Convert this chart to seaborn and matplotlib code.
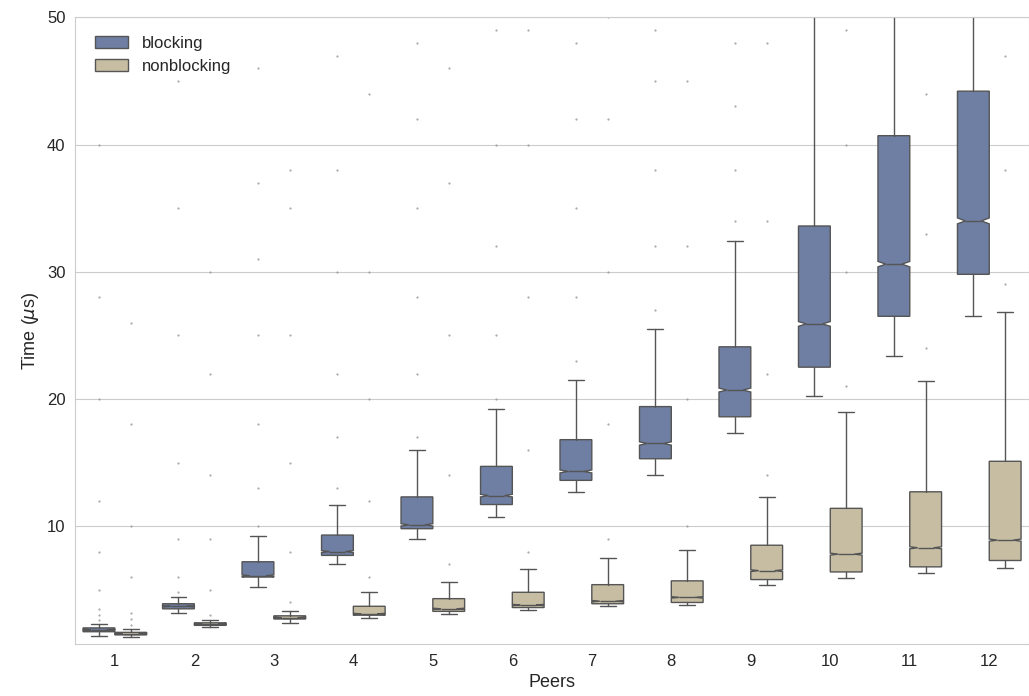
import matplotlib
matplotlib.use("Agg")
import matplotlib.pyplot as plt
import seaborn as sns
from matplotlib.patches import Patch

peers = list(range(1, 13))

# blocking: whisker low, q1, median, q3, whisker high
blk_lo = [1.4, 3.2, 5.2, 7.0, 9.0, 10.7, 12.7, 14.0, 17.3, 20.2, 23.4, 26.5]
blk_q1 = [1.7, 3.5, 6.0, 7.7, 9.8, 11.7, 13.6, 15.3, 18.6, 22.5, 26.5, 29.8]
blk_med = [1.85, 3.7, 6.1, 8.0, 10.1, 12.4, 14.3, 16.5, 20.7, 25.9, 30.6, 34.0]
blk_q3 = [2.0, 3.9, 7.2, 9.3, 12.3, 14.7, 16.8, 19.4, 24.1, 33.6, 40.7, 44.2]
blk_hi = [2.3, 4.4, 9.2, 11.7, 16.0, 19.2, 21.5, 25.5, 32.4, 55.0, 55.0, 55.0]

# nonblocking
nb_lo = [1.3, 2.1, 2.4, 2.8, 3.1, 3.4, 3.7, 3.8, 5.4, 5.9, 6.3, 6.7]
nb_q1 = [1.45, 2.2, 2.7, 3.0, 3.3, 3.6, 3.9, 4.0, 5.8, 6.4, 6.8, 7.3]
nb_med = [1.55, 2.3, 2.8, 3.1, 3.5, 3.8, 4.1, 4.4, 6.5, 7.8, 8.3, 8.9]
nb_q3 = [1.65, 2.4, 2.95, 3.7, 4.3, 4.8, 5.4, 5.7, 8.5, 11.4, 12.7, 15.1]
nb_hi = [1.9, 2.6, 3.3, 4.8, 5.6, 6.6, 7.5, 8.1, 12.3, 19.0, 21.4, 26.8]

# sparse outliers (flier dots)
blk_fliers = [[2.6, 3.0, 3.5, 5, 8, 12, 20, 28, 40], [4.8, 6, 9, 15, 25, 35, 45],
              [10, 13, 18, 25, 31, 37, 46], [13, 17, 22, 30, 38, 47],
              [17, 22, 28, 35, 42, 48], [20, 25, 32, 40, 49],
              [23, 28, 35, 42, 48], [27, 32, 38, 45, 49], [34, 38, 43, 48],
              [], [], []]
nb_fliers = [[2.2, 2.7, 3.2, 6, 10, 18, 26], [3, 5, 9, 14, 22, 30],
             [4, 8, 15, 25, 35, 38], [6, 12, 20, 30, 44], [7, 14, 25, 37, 46],
             [8, 16, 28, 40, 49], [9, 18, 30, 42, 50], [10, 20, 32, 45],
             [14, 22, 34, 48], [21, 30, 40, 49], [24, 33, 44], [29, 38, 47]]

BLUE = "#6e7fa3"
TAN = "#c6bda2"
EDGE = "#555555"


def stats(lo, q1, med, q3, hi, fl):
    out = []
    for a, b, m, c, d, f in zip(lo, q1, med, q3, hi, fl):
        ci = 0.006 * m + 0.03
        out.append(dict(whislo=a, q1=b, med=m, q3=c, whishi=d, fliers=f,
                        cilo=m - ci, cihi=m + ci))
    return out


sns.set_style("whitegrid")
plt.rcParams["font.family"] = ["Liberation Sans", "DejaVu Sans"]
fig, ax = plt.subplots(figsize=(10.29, 6.96), dpi=100)

for st, off, col in [(stats(blk_lo, blk_q1, blk_med, blk_q3, blk_hi, blk_fliers), -0.2, BLUE),
                     (stats(nb_lo, nb_q1, nb_med, nb_q3, nb_hi, nb_fliers), 0.2, TAN)]:
    ax.bxp(st, positions=[i + off for i in range(12)], widths=0.4,
           patch_artist=True, shownotches=True, showcaps=True,
           boxprops=dict(facecolor=col, edgecolor=EDGE, linewidth=1),
           medianprops=dict(color=EDGE, linewidth=1),
           whiskerprops=dict(color=EDGE, linewidth=1),
           capprops=dict(color=EDGE, linewidth=1),
           flierprops=dict(marker=".", markersize=1, color="#999999",
                           markerfacecolor="#999999", markeredgecolor="#999999"))

ax.set_xticks(range(12))
ax.set_xticklabels([str(p) for p in peers], fontsize=12)
ax.set_xlim(-0.5, 11.5)
ax.set_ylim(0.75, 50)
ax.set_yticks([10, 20, 30, 40, 50])
ax.tick_params(axis="y", labelsize=12)
ax.xaxis.grid(False)
ax.set_xlabel("Peers", fontsize=13)
ax.set_ylabel(r"Time ($\mu$s)", fontsize=13)
for s in ax.spines.values():
    s.set_color("#cccccc")

ax.legend(handles=[Patch(facecolor=BLUE, edgecolor=EDGE, label="blocking"),
                   Patch(facecolor=TAN, edgecolor=EDGE, label="nonblocking")],
          loc="upper left", frameon=False, fontsize=12,
          bbox_to_anchor=(0.005, 0.995))

fig.subplots_adjust(left=0.073, right=1.0, top=0.975, bottom=0.075)
fig.savefig("out.png", dpi=100)
